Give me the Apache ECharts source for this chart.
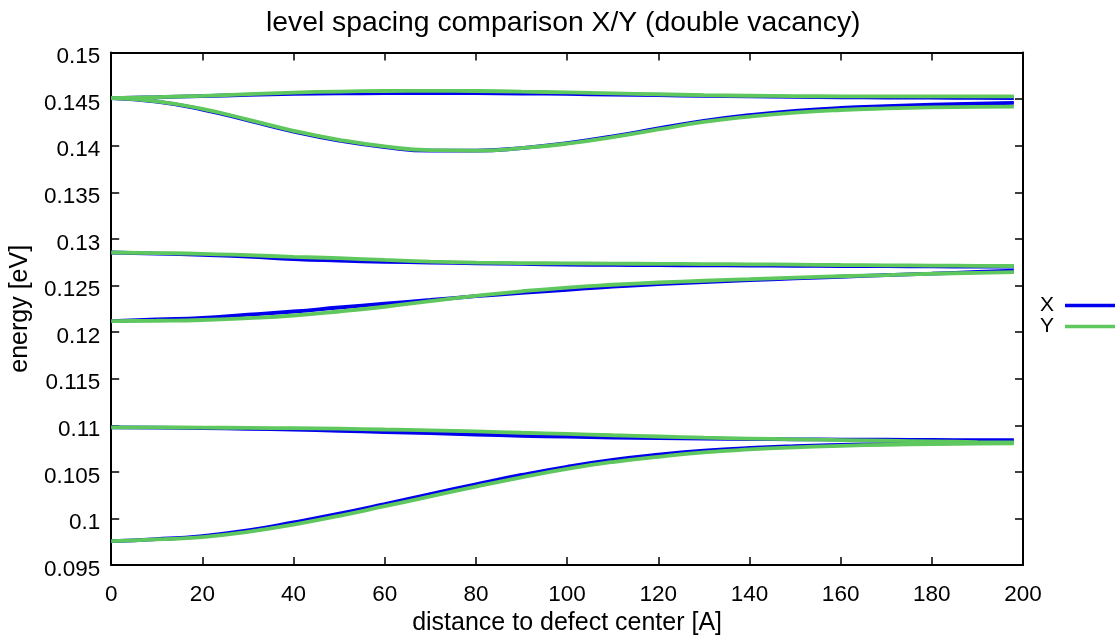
<!DOCTYPE html>
<html>
<head>
<meta charset="utf-8">
<script src="https://cdn.jsdelivr.net/npm/echarts@6/dist/echarts.min.js"></script>
<style>html,body{margin:0;padding:0;background:#fff}#c{width:1115px;height:641px}</style>
</head>
<body>
<div id="c"></div>
<script>
var xs = [0,10,20,30,40,50,60,70,80,90,100,110,120,130,140,150,160,170,180,190,198];
var xTicks = [0,20,40,60,80,100,120,140,160,180,200];
var yTicks = [0.095,0.1,0.105,0.11,0.115,0.12,0.125,0.13,0.135,0.14,0.145,0.15];

// X series (blue)
var X_topUpper = [0.1451,0.1452,0.14532,0.14545,0.14555,0.14561,0.14564,0.14565,0.14564,0.1456,0.14555,0.14549,0.14542,0.14535,0.14529,0.14524,0.1452,0.14517,0.14515,0.14513,0.14512];
var X_topLower = [0.1451,0.14472,0.14388,0.14272,0.14152,0.14055,0.13985,0.13947,0.13947,0.13975,0.14027,0.141,0.14185,0.14267,0.14328,0.14373,0.14405,0.14425,0.1444,0.1445,0.14459];
var X_midUpper = [0.12854,0.12842,0.12828,0.1281,0.12783,0.12767,0.12755,0.12746,0.12739,0.12732,0.12725,0.12721,0.12718,0.12716,0.12714,0.12712,0.12709,0.12707,0.12705,0.12703,0.12702];
var X_midLower = [0.12118,0.12135,0.12152,0.12187,0.12221,0.12264,0.12305,0.12345,0.12385,0.1242,0.12454,0.12488,0.12515,0.12537,0.12557,0.12576,0.12594,0.12611,0.12627,0.12645,0.1266];
var X_botUpper = [0.10977,0.10974,0.10969,0.10963,0.10953,0.10941,0.10928,0.10915,0.109,0.10888,0.10878,0.10869,0.10862,0.10857,0.10853,0.1085,0.10847,0.10845,0.10843,0.10841,0.1084];
var X_botLower = [0.09757,0.09778,0.09812,0.09872,0.09958,0.10052,0.10155,0.10262,0.10367,0.10467,0.10555,0.10628,0.10684,0.10727,0.10757,0.10777,0.1079,0.10799,0.10806,0.10813,0.10819];

// Y series (green)
var Y_topUpper = [0.1451,0.14522,0.14535,0.14553,0.1457,0.14581,0.14587,0.14589,0.14587,0.1458,0.14572,0.14562,0.14552,0.14542,0.14536,0.14532,0.1453,0.1453,0.1453,0.1453,0.1453];
var Y_topLower = [0.1451,0.14475,0.14395,0.1428,0.1416,0.14063,0.13992,0.13952,0.13948,0.13973,0.14022,0.14093,0.14175,0.14255,0.14312,0.14355,0.14383,0.144,0.14411,0.14417,0.1442];
var Y_midUpper = [0.12854,0.12848,0.1284,0.12825,0.12808,0.12793,0.12774,0.12757,0.12746,0.12741,0.12737,0.12735,0.12732,0.1273,0.12727,0.12724,0.1272,0.12717,0.12714,0.12711,0.12709];
var Y_midLower = [0.12118,0.12122,0.1213,0.1215,0.12178,0.12221,0.12272,0.12332,0.12389,0.12438,0.12478,0.12508,0.12532,0.12551,0.12568,0.12585,0.12599,0.12612,0.12626,0.12636,0.12643];
var Y_botUpper = [0.10977,0.10977,0.10975,0.10972,0.10969,0.10964,0.10955,0.10945,0.10934,0.1092,0.10907,0.10893,0.1088,0.10867,0.10858,0.1085,0.10842,0.10834,0.10827,0.1082,0.10816];
var Y_botLower = [0.09757,0.09775,0.098,0.09856,0.09935,0.10028,0.10132,0.10237,0.10342,0.10442,0.10533,0.10606,0.10662,0.10709,0.10741,0.10764,0.1078,0.10791,0.10799,0.10803,0.10805];

var BLUE = '#0000ee', GREEN = '#5ec85e';
var FONT = '"Liberation Sans", Arial, Helvetica, sans-serif';

function mk(name, arr, color) {
  return {
    name: name, type: 'line', xAxisIndex: 0, yAxisIndex: 0,
    data: xs.map(function (x, i) { return [x, arr[i]]; }),
    showSymbol: false, symbol: 'none', smooth: 0.5,
    lineStyle: { color: color, width: 3.8 }, itemStyle: { color: color },
    emphasis: { disabled: true }, animation: false
  };
}
var series = [
  mk('X', X_topUpper, BLUE), mk('X', X_topLower, BLUE), mk('X', X_midUpper, BLUE),
  mk('X', X_midLower, BLUE), mk('X', X_botUpper, BLUE), mk('X', X_botLower, BLUE),
  mk('Y', Y_topUpper, GREEN), mk('Y', Y_topLower, GREEN), mk('Y', Y_midUpper, GREEN),
  mk('Y', Y_midLower, GREEN), mk('Y', Y_botUpper, GREEN), mk('Y', Y_botLower, GREEN)
];

var axLine = { show: true, onZero: false, lineStyle: { color: '#000', width: 2 } };
var tick = { show: true, inside: true, length: 8, lineStyle: { color: '#000', width: 1.5 } };
function fmtY(v) { return String(parseFloat(v.toFixed(3))); }

var chart = echarts.init(document.getElementById('c'));
chart.setOption({
  backgroundColor: '#fff',
  animation: false,
  title: {
    text: 'level spacing comparison X/Y (double vacancy)',
    left: 261, top: 4,
    textStyle: { fontFamily: FONT, fontSize: 28.3, fontWeight: 'normal', color: '#000' }
  },
  legend: {
    data: ['X', 'Y'], orient: 'vertical', right: 0, top: 295, align: 'right', padding: 0,
    icon: 'rect', itemWidth: 50, itemHeight: 3.5, itemGap: 0,
    textStyle: { fontFamily: FONT, fontSize: 21, color: '#000', lineHeight: 19, padding: [0, 6, 0, 0] },
    selectedMode: false
  },
  grid: { left: 110, right: 92, top: 52.5, bottom: 67.5, containLabel: false },
  xAxis: [{
    type: 'value', min: 0, max: 200, interval: 20, position: 'bottom',
    name: 'distance to defect center [A]', nameLocation: 'middle', nameGap: 41,
    nameTextStyle: { fontFamily: FONT, fontSize: 25, color: '#000' },
    axisLine: axLine, axisTick: tick, splitLine: { show: false },
    axisLabel: { fontFamily: FONT, fontSize: 22.5, color: '#000', margin: 18,
      customValues: xTicks }
  }, {
    type: 'value', min: 0, max: 200, interval: 20, position: 'top',
    axisLine: axLine, axisTick: tick, splitLine: { show: false }, axisLabel: { show: false }
  }],
  yAxis: [{
    type: 'value', min: 0.095, max: 0.15, interval: 0.005, position: 'left',
    name: 'energy [eV]', nameLocation: 'middle', nameGap: 74, nameRotate: 90,
    nameTextStyle: { fontFamily: FONT, fontSize: 25, color: '#000' },
    axisLine: axLine, axisTick: tick, splitLine: { show: false },
    axisLabel: { fontFamily: FONT, fontSize: 22.5, color: '#000', margin: 11,
      verticalAlign: 'top', lineHeight: 9, formatter: fmtY, customValues: yTicks }
  }, {
    type: 'value', min: 0.095, max: 0.15, interval: 0.005, position: 'right',
    axisLine: axLine, axisTick: tick, splitLine: { show: false }, axisLabel: { show: false }
  }],
  series: series
});
</script>
</body>
</html>
